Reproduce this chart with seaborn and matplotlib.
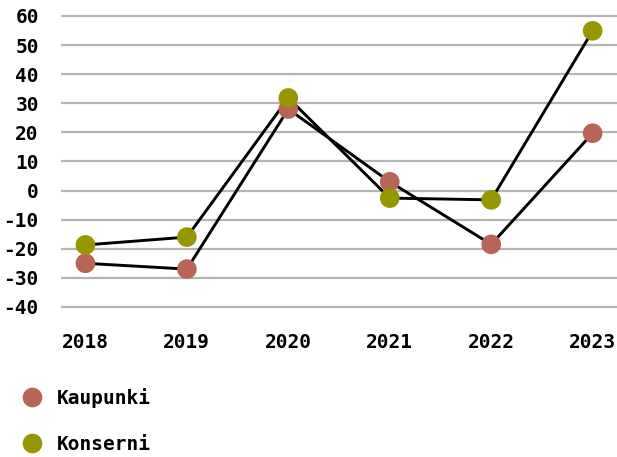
import pandas as pd
import matplotlib.pyplot as plt
import seaborn as sns

vuodet = [2018, 2019, 2020, 2021, 2022, 2023]
kaupunki = [-25, -27, 28, 3, -18.5, 19.7]
konserni = [-18.7, -16, 31.8, -2.6, -3.2, 54.9]
sarjat = ['Kaupunki', 'Konserni']
varit = ['#B86456', '#959600']

df = pd.DataFrame({
    'vuosi': vuodet * 2,
    'arvo': kaupunki + konserni,
    'sarja': [sarjat[0]] * len(vuodet) + [sarjat[1]] * len(vuodet),
})

sns.set_theme(style='white')
plt.rcParams['font.family'] = ['DejaVu Sans Mono', 'DejaVu Sans']
plt.rcParams['font.weight'] = 'bold'
plt.rcParams['axes.unicode_minus'] = False
plt.rcParams['text.color'] = 'black'
plt.rcParams['xtick.color'] = 'black'
plt.rcParams['ytick.color'] = 'black'

fig = plt.figure(figsize=(6.17, 4.57), dpi=100)
ax = fig.add_axes([0.099, 0.322, 0.901, 0.6495])

for s in sarjat:
    sns.lineplot(data=df[df['sarja'] == s], x='vuosi', y='arvo', color='black',
                 linewidth=2.1, ax=ax, legend=False, zorder=2)
sns.scatterplot(data=df, x='vuosi', y='arvo', hue='sarja', palette=varit,
                s=200, edgecolor='none', ax=ax, zorder=3)

ax.set_ylim(-41, 61)
ax.set_yticks(range(-40, 61, 10))
ax.set_xlim(2018 - 0.24, 2023 + 0.24)
ax.set_xticks(vuodet)
ax.yaxis.grid(True, color='#b4b4b4', linewidth=1.6)
for sp in ax.spines.values():
    sp.set_visible(False)
ax.set_xlabel('')
ax.set_ylabel('')
ax.tick_params(axis='both', labelsize=14, length=0, labelcolor='black')
ax.tick_params(axis='x', pad=17)
ax.tick_params(axis='y', pad=16)
for lab in ax.get_yticklabels() + ax.get_xticklabels():
    lab.set_fontweight('bold')

handles, labels = ax.get_legend_handles_labels()
ax.legend_.remove()
leg = fig.legend(handles, labels, loc='upper left', bbox_to_anchor=(0.0235, 0.168),
                 frameon=False, labelspacing=1.4, handlelength=1.0, handletextpad=0.79,
                 borderaxespad=0, prop={'weight': 'bold', 'size': 14})
for t in leg.get_texts():
    t.set_color('black')

fig.savefig('out.png', dpi=100)
